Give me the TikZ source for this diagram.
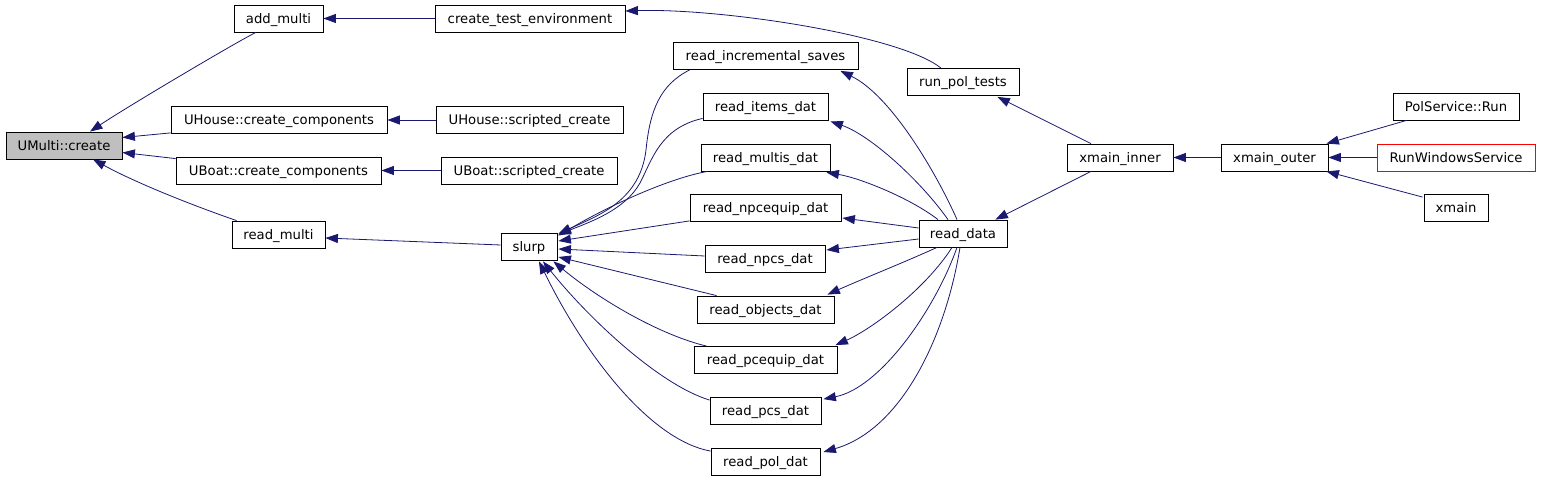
\documentclass[tikz,border=0pt]{standalone}
\usepackage{fontspec}
\newfontfamily\dvs{DejaVu Sans}
\usetikzlibrary{arrows.meta,calc}
\definecolor{edgeblue}{HTML}{191970}
\definecolor{umgray}{HTML}{BFBFBF}
\definecolor{redborder}{HTML}{FF0000}
\tikzset{
  box/.style={draw=black, line width=0.8bp, inner sep=0pt, minimum height=27bp,
    text height=9.6bp, text depth=0bp, anchor=center,
    font=\dvs\fontsize{13.2bp}{15bp}\selectfont},
  edge/.style={draw=edgeblue, line width=0.8bp, -{Triangle[length=12.5bp,width=9bp]}},
}
\begin{document}
\begin{tikzpicture}[x=1bp,y=-1bp]
\useasboundingbox[fill=white] (0,0) rectangle (1541,480);
% nodes
\node[box, minimum width=116bp, fill=umgray] (umc) at (64,145.5) {UMulti::create};
\node[box, minimum width=89bp] (addm) at (278.5,18.5) {add\_multi};
\node[box, minimum width=190bp] (cte) at (530,18.5) {create\_test\_environment};
\node[box, minimum width=216bp] (uhcc) at (279,120) {UHouse::create\_components};
\node[box, minimum width=187bp] (uhsc) at (529.5,120) {UHouse::scripted\_create};
\node[box, minimum width=205bp] (ubcc) at (278.5,170.5) {UBoat::create\_components};
\node[box, minimum width=176bp] (ubsc) at (529,170.5) {UBoat::scripted\_create};
\node[box, minimum width=93bp] (rm) at (278.5,234.5) {read\_multi};
\node[box, minimum width=56bp] (slurp) at (529,246.5) {slurp};
\node[box, minimum width=185bp] (ris) at (765.5,56) {read\_incremental\_saves};
\node[box, minimum width=125bp] (rid) at (765.5,106.5) {read\_items\_dat};
\node[box, minimum width=129bp] (rmd) at (765.5,157.5) {read\_multis\_dat};
\node[box, minimum width=151bp] (rned) at (765.5,208) {read\_npcequip\_dat};
\node[box, minimum width=120bp] (rnd) at (765,258.5) {read\_npcs\_dat};
\node[box, minimum width=137bp] (rod) at (765.5,309.5) {read\_objects\_dat};
\node[box, minimum width=143bp] (rped) at (765.5,360) {read\_pcequip\_dat};
\node[box, minimum width=111bp] (rpcs) at (765.5,411) {read\_pcs\_dat};
\node[box, minimum width=109bp] (rpol) at (765.5,462) {read\_pol\_dat};
\node[box, minimum width=112bp] (rpt) at (963,82) {run\_pol\_tests};
\node[box, minimum width=88bp] (rd) at (963,233.5) {read\_data};
\node[box, minimum width=106bp] (xi) at (1120,157.5) {xmain\_inner};
\node[box, minimum width=107bp] (xo) at (1274.5,157.5) {xmain\_outer};
\node[box, minimum width=126bp] (psr) at (1456,106.5) {PolService::Run};
\node[box, minimum width=158bp, draw=redborder] (rws) at (1456,157.5) {RunWindowsService};
\node[box, minimum width=64bp] (xm) at (1456,208) {xmain};
% edges to UMulti::create
\draw[edge] ($(addm.south)+(-22.5,0)$) .. controls (240,40) and (130,105) .. ($(umc.north)+(26,0)$);
\draw[edge] ($(uhcc.south west)+(0,-1)$) -- ($(umc.east)+(0,-8)$);
\draw[edge] ($(ubcc.north west)+(0,2)$) -- ($(umc.east)+(0,7)$);
\draw[edge] ($(rm.north west)+(5,0)$) .. controls (200,208) and (140,185) .. ($(umc.south)+(29,0)$);
% simple horizontals
\draw[edge] (cte.west) -- (addm.east);
\draw[edge] (uhsc.west) -- (uhcc.east);
\draw[edge] (ubsc.west) -- (ubcc.east);
\draw[edge] ($(slurp.west)+(0,-1.5)$) -- ($(rm.east)+(0,3.5)$);
\draw[edge] ($(rpt.north)+(-22,0)$) .. controls (900,35) and (720,8) .. ($(cte.east)+(0,-7.5)$);
% edges to slurp
\draw[edge] ($(ris.south west)+(17,0)$) .. controls (660,85) and (650,110) .. (646,150)
   .. controls (640,200) and (600,215) .. ($(slurp.north east)+(1,1)$);
\draw[edge] ($(rid.south west)+(0,-2)$) .. controls (660,128) and (652,160) .. (640,183)
   .. controls (625,210) and (590,222) .. ($(slurp.north east)+(1,2)$);
\draw[edge] ($(rmd.south west)+(7,0)$) .. controls (670,178) and (610,205) .. ($(slurp.north east)+(1,3)$);
\draw[edge] ($(rned.south west)+(0,-1)$) -- ($(slurp.east)+(1,-5.5)$);
\draw[edge] ($(rnd.west)+(0,-2.5)$) -- ($(slurp.east)+(1,2.5)$);
\draw[edge] ($(rod.north west)+(20,0)$) -- ($(slurp.east)+(1,10.5)$);
\draw[edge] ($(rped.north west)+(13,0)$) .. controls (660,335) and (600,300) .. ($(slurp.south east)+(-4,1)$);
\draw[edge] ($(rpcs.north west)+(0,3)$) .. controls (660,385) and (590,320) .. ($(slurp.south)+(14,1)$);
\draw[edge] ($(rpol.north west)+(0,3)$) .. controls (650,440) and (585,355) .. ($(slurp.south)+(10,1)$);
% edges from read_data
\draw[edge] ($(rd.north)+(-6,0)$) .. controls (935,170) and (890,95) .. ($(ris.south east)+(-18,1)$);
\draw[edge] ($(rd.north)+(-15,0)$) .. controls (920,180) and (870,135) .. ($(rid.south east)+(2,1)$);
\draw[edge] ($(rd.north)+(-25,0)$) .. controls (910,198) and (860,178) .. ($(rmd.south east)+(-4,1)$);
\draw[edge] ($(rd.west)+(0,-5.5)$) -- ($(rned.east)+(1,10)$);
\draw[edge] ($(rd.west)+(0,5.5)$) -- ($(rnd.east)+(1,-8.5)$);
\draw[edge] ($(rd.south)+(-26,0)$) .. controls (905,262) and (860,280) .. ($(rod.north east)+(-7,-1)$);
\draw[edge] ($(rd.south)+(-11,0)$) .. controls (925,290) and (870,330) .. ($(rped.north east)+(-2,-1)$);
\draw[edge] ($(rd.south)+(-6,0)$) .. controls (935,310) and (880,388) .. ($(rpcs.north east)+(2,2)$);
\draw[edge] ($(rd.south)+(-3,0)$) .. controls (945,340) and (900,430) .. ($(rpol.east)+(3,-10)$);
% right side
\draw[edge] ($(xi.north)+(-29,0)$) -- ($(rpt.south east)+(-22,1)$);
\draw[edge] ($(xi.south)+(-29,0)$) -- ($(rd.north east)+(-12,0)$);
\draw[edge] (xo.west) -- (xi.east);
\draw[edge] ($(psr.south west)+(14,0)$) -- ($(xo.north east)+(-2,0)$);
\draw[edge] (rws.west) -- (xo.east);
\draw[edge] ($(xm.north west)+(-1,3)$) -- ($(xo.south east)+(-2,0)$);
\end{tikzpicture}
\end{document}
